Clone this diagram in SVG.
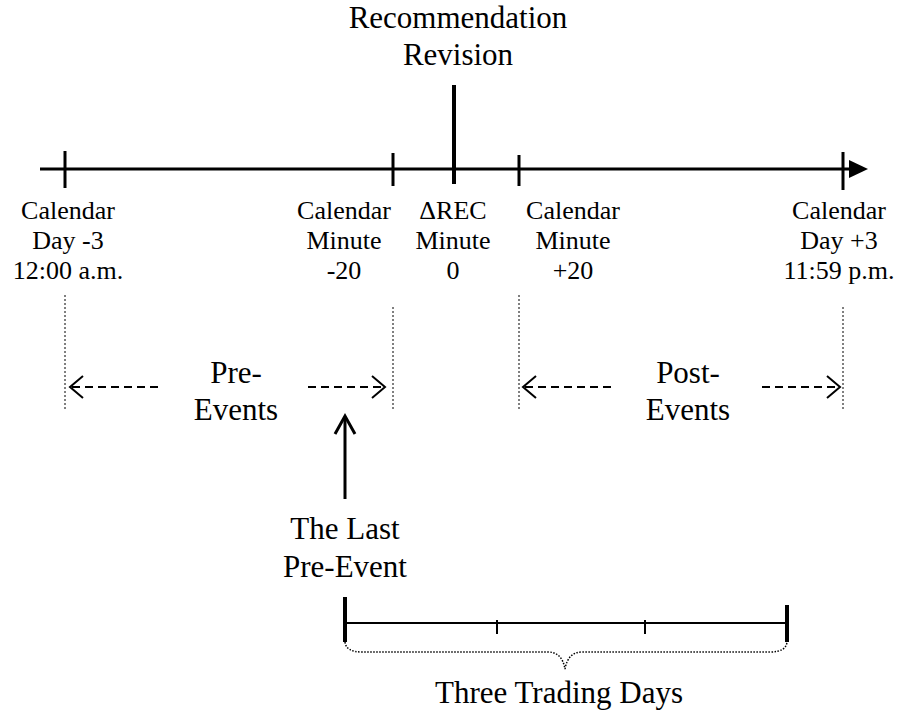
<svg xmlns="http://www.w3.org/2000/svg" width="907" height="721" viewBox="0 0 907 721">
<style>
text{font-family:"Liberation Serif","Times New Roman",serif;fill:#000;text-anchor:middle}
.lbl{font-size:26px}
.big{font-size:31px}
.ax{stroke:#000;stroke-width:3;fill:none}
.tk{stroke:#000;stroke-width:3}
.dot{stroke:#000;stroke-width:1;stroke-dasharray:2 2;fill:none}
.dash{stroke:#000;stroke-width:2;stroke-dasharray:8 5;fill:none}
.head{stroke:#000;stroke-width:2;fill:none}
</style>
<rect width="907" height="721" fill="#fff"/>
<g id="connectors">
  <line class="ax" x1="40" y1="169" x2="852" y2="169"/>
  <polygon points="849,160 868,169 849,178" fill="#000"/>
  <line class="tk" x1="65" y1="151" x2="65" y2="188"/>
  <line class="tk" x1="393" y1="153" x2="393" y2="186"/>
  <line stroke="#000" stroke-width="4" x1="454" y1="85" x2="454" y2="184"/>
  <line class="tk" x1="519" y1="155" x2="519" y2="186"/>
  <line class="tk" x1="843" y1="152" x2="843" y2="190"/>
  <line class="dot" x1="65" y1="295" x2="65" y2="409"/>
  <line class="dot" x1="393" y1="307" x2="393" y2="409"/>
  <line class="dot" x1="519" y1="295" x2="519" y2="409"/>
  <line class="dot" x1="843" y1="307" x2="843" y2="409"/>
  <line class="dash" x1="72" y1="387" x2="163" y2="387"/>
  <path class="head" d="M83,376 L70,387 L83,398"/>
  <line class="dash" x1="308" y1="387" x2="383" y2="387"/>
  <path class="head" d="M372,376 L385,387 L372,398"/>
  <line class="dash" x1="525" y1="387" x2="613" y2="387"/>
  <path class="head" d="M536,376 L523,387 L536,398"/>
  <line class="dash" x1="762" y1="387" x2="838" y2="387"/>
  <path class="head" d="M827,376 L840,387 L827,398"/>
  <line class="ax" x1="345" y1="499" x2="345" y2="417"/>
  <path class="ax" d="M335,434 L345,416 L355,434"/>
  <line stroke="#000" stroke-width="4" x1="345" y1="597" x2="345" y2="642"/>
  <line stroke="#000" stroke-width="4" x1="787" y1="605" x2="787" y2="642"/>
  <line stroke="#000" stroke-width="2" x1="345" y1="623" x2="787" y2="623"/>
  <line stroke="#000" stroke-width="2" x1="497" y1="620" x2="497" y2="634"/>
  <line stroke="#000" stroke-width="2" x1="645" y1="620" x2="645" y2="634"/>
  <path d="M345,642 Q346,652 362,652 L548,652 Q562,652 565,669 Q568,652 582,652 L770,652 Q786,652 787,642" stroke="#000" stroke-width="1.5" stroke-dasharray="1.5 1.5" fill="none"/>
</g>
<g id="title"><text class="big" x="458" y="28">Recommendation</text><text class="big" x="458" y="65">Revision</text></g>
<g id="day-minus3"><text class="lbl" x="68" y="219">Calendar</text><text class="lbl" x="68" y="249">Day -3</text><text class="lbl" x="68" y="279">12:00 a.m.</text></g>
<g id="minute-minus20"><text class="lbl" x="344" y="219">Calendar</text><text class="lbl" x="344" y="249">Minute</text><text class="lbl" x="344" y="279">-20</text></g>
<g id="minute-0"><text class="lbl" x="453" y="219">ΔREC</text><text class="lbl" x="453" y="249">Minute</text><text class="lbl" x="453" y="279">0</text></g>
<g id="minute-plus20"><text class="lbl" x="573" y="219">Calendar</text><text class="lbl" x="573" y="249">Minute</text><text class="lbl" x="573" y="279">+20</text></g>
<g id="day-plus3"><text class="lbl" x="839" y="219">Calendar</text><text class="lbl" x="839" y="249">Day +3</text><text class="lbl" x="839" y="279">11:59 p.m.</text></g>
<g id="pre-events"><text class="big" x="236" y="383">Pre-</text><text class="big" x="236" y="420">Events</text></g>
<g id="post-events"><text class="big" x="688" y="383">Post-</text><text class="big" x="688" y="420">Events</text></g>
<g id="last-pre-event"><text class="big" x="345" y="539">The Last</text><text class="big" x="345" y="577">Pre-Event</text></g>
<g id="three-days"><text class="big" x="559" y="703">Three Trading Days</text></g>
</svg>
